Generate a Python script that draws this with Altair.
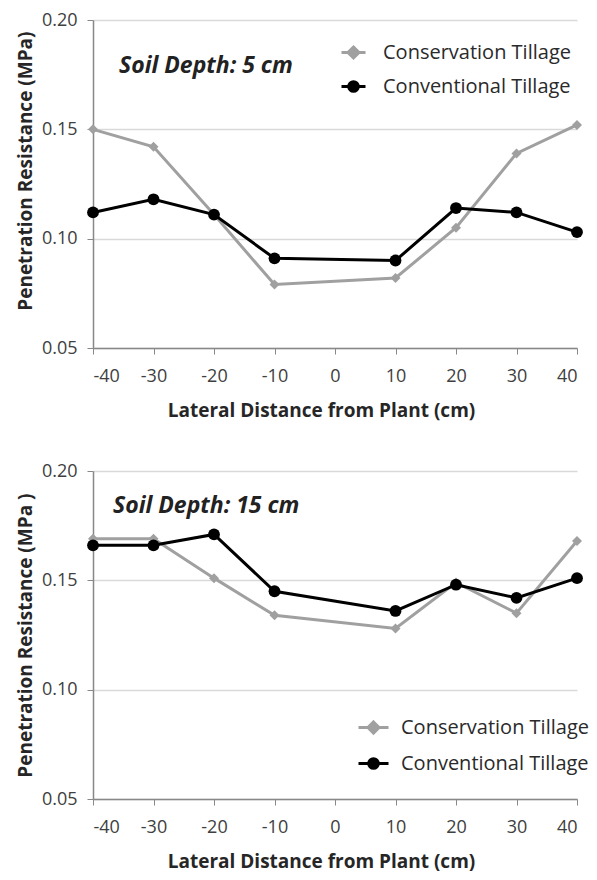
import altair as alt
import pandas as pd

SERIES = ["Conservation Tillage", "Conventional Tillage"]
distance = [-40, -30, -20, -10, 10, 20, 30, 40]
cons_5cm = [0.150, 0.142, 0.111, 0.079, 0.082, 0.105, 0.139, 0.152]
conv_5cm = [0.112, 0.118, 0.111, 0.091, 0.090, 0.114, 0.112, 0.103]
cons_15cm = [0.169, 0.169, 0.151, 0.134, 0.128, 0.149, 0.135, 0.168]
conv_15cm = [0.166, 0.166, 0.171, 0.145, 0.136, 0.148, 0.142, 0.151]
x_ticks = [-40, -30, -20, -10, 0, 10, 20, 30, 40]
y_ticks = [0.05, 0.10, 0.15, 0.20]
depth_labels = ["Soil Depth: 5 cm", "Soil Depth: 15 cm"]
y_titles = ["Penetration Resistance (MPa)", "Penetration Resistance (MPa )"]
x_title = "Lateral Distance from Plant (cm)"

GRAY = "#a0a0a0"
BLACK = "#000000"
FONT = "Open Sans"


def key_paths(sym_w, diamond_px=5.5, circle_px=4.8):
    d = diamond_px / (sym_w / 2)
    c = circle_px / (sym_w / 2)
    diamond = f"M-1,0H1M0,-{d:.3f}L{d:.3f},0L0,{d:.3f}L-{d:.3f},0Z"
    circle = f"M-1,0H1M-{c:.3f},0A{c:.3f},{c:.3f},0,1,1,{c:.3f},0A{c:.3f},{c:.3f},0,1,1,-{c:.3f},0Z"
    return [diamond, circle]


def make_df(cons, conv):
    rows = []
    for s, vals in zip(SERIES, [cons, conv]):
        for d, v in zip(distance, vals):
            rows.append({"distance": d, "pr": v, "series": s})
    return pd.DataFrame(rows)


def panel(cons, conv, label, ytitle, ytitle_y, lx, ly, sym_w, lab_off, row_pad, ann_x, ann_y):
    df = make_df(cons, conv)
    col_scale = alt.Scale(domain=SERIES, range=[GRAY, BLACK])
    legend = alt.Legend(
        title=None, orient="none", legendX=lx, legendY=ly,
        symbolSize=sym_w * sym_w, symbolStrokeWidth=3, symbolOpacity=1,
        labelFontSize=20, labelFont=FONT, labelColor="#2a2a2a", labelLimit=400,
        labelOffset=lab_off, rowPadding=row_pad,
    )
    col = alt.Color("series:N", scale=col_scale, legend=legend)
    x = alt.X("distance:Q",
              scale=alt.Scale(domain=[-40, 40], nice=False, zero=False),
              axis=alt.Axis(values=x_ticks, title=x_title, grid=False,
                            labelExpr="datum.value < 0 ? '-' + abs(datum.value) : '' + datum.value",
                            titleX=228, titleAlign="center"))
    y = alt.Y("pr:Q",
              scale=alt.Scale(domain=[0.05, 0.20], nice=False, zero=False),
              axis=alt.Axis(values=y_ticks, format=".2f", title=ytitle, grid=True,
                            titleY=ytitle_y, titleAlign="right"))
    lines = alt.Chart(df).mark_line(strokeWidth=3).encode(x=x, y=y, color=col)
    points = alt.Chart(df).mark_point(filled=True, opacity=1).encode(
        x=x, y=y, color=col,
        shape=alt.condition(alt.datum.series == SERIES[0], alt.value("diamond"), alt.value("circle")),
        size=alt.condition(alt.datum.series == SERIES[0], alt.value(100), alt.value(140)),
    )
    key = alt.Chart(df).transform_filter("datum.distance > 1000").mark_point(filled=False).encode(
        x=x, y=y, color=col,
        shape=alt.Shape("series:N", scale=alt.Scale(domain=SERIES, range=key_paths(sym_w)),
                        legend=legend),
    )
    ann = alt.Chart(pd.DataFrame({"label": [label]})).mark_text(
        align="left", baseline="middle", font=FONT, fontSize=23,
        fontStyle="italic", fontWeight="bold", color="#222222",
    ).encode(text="label:N", x=alt.value(ann_x), y=alt.value(ann_y))
    return alt.layer(lines, points, key, ann).properties(width=484, height=328)


top = panel(cons_5cm, conv_5cm, depth_labels[0], y_titles[0], 11, 247, 19, 24, 16, 9, 26, 46)
bottom = panel(cons_15cm, conv_15cm, depth_labels[1], y_titles[1], 22, 264, 240, 30, 11, 7, 20, 35)

chart = alt.vconcat(top, bottom, spacing=42).resolve_scale(
    color="independent", shape="independent"
).resolve_legend(
    color="independent", shape="independent"
).properties(
    padding={"left": 8, "top": 3, "right": 0, "bottom": 0}
).configure_view(stroke=None).configure_axis(
    labelFont=FONT, titleFont=FONT, labelFontSize=18, titleFontSize=19,
    labelColor="#404040", titleColor="#262626", titleFontWeight="bold",
    domainColor="#888888", tickColor="#888888", gridColor="#d9d9d9",
    tickSize=6, domainWidth=1.5, gridWidth=1.5,
).configure_axisX(labelPadding=13, titlePadding=16).configure_axisY(labelPadding=10, titlePadding=6)

chart.save("out.html", embed_options={"renderer": "svg", "actions": False})
